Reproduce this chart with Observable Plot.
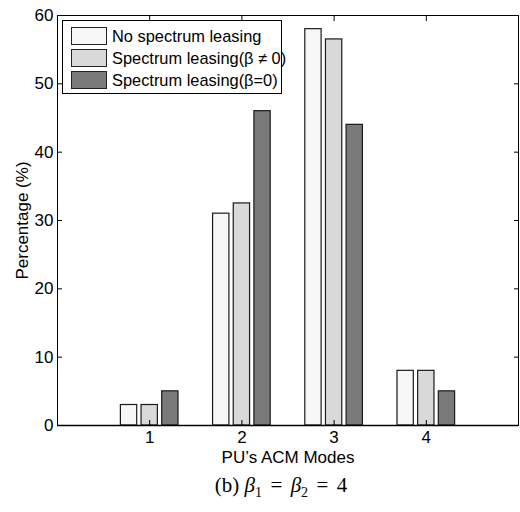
<!DOCTYPE html>
<html>
<head>
<meta charset="utf-8">
<script src="https://cdn.jsdelivr.net/npm/d3@7"></script>
<script src="https://cdn.jsdelivr.net/npm/@observablehq/plot@0.6"></script>
<style>
  body { margin: 0; background: #fff; }
  #wrap { position: relative; width: 520px; height: 512px; font-family: "Liberation Sans", Arial, sans-serif; }
  #legend { position: absolute; left: 62px; top: 20px; width: 220px; height: 74px; border: 1px solid #000; background: #fff; box-sizing: border-box; }
  .row { position: absolute; left: 8px; height: 20px; display: flex; align-items: center; font-size: 16.4px; color: #000; white-space: nowrap; }
  .sw { width: 36px; height: 18px; border: 1px solid #222; box-sizing: border-box; margin-right: 5px; }
  #caption { position: absolute; left: 0; width: 562px; top: 473px; text-align: center; font-family: "Liberation Serif", "DejaVu Serif", serif; font-size: 21px; color: #000; }
  #caption i { font-style: italic; }
  #caption .eq { padding: 0 0.4em; }
  #caption sub { font-size: 14px; }
</style>
</head>
<body>
<div id="wrap"></div>
<script>
const modes = [1, 2, 3, 4];
const seriesNames = ["No spectrum leasing", "Spectrum leasing(β ≠ 0)", "Spectrum leasing(β=0)"];
const noLeasing = [3, 31, 58, 8];
const leasingBetaNonZero = [3, 32.5, 56.5, 8];
const leasingBetaZero = [5, 46, 44, 5];
const yTicks = [0, 10, 20, 30, 40, 50, 60];
const colors = ["#f7f7f7", "#d9d9d9", "#7a7a7a"];

const seriesValues = [noLeasing, leasingBetaNonZero, leasingBetaZero];
const data = [];
seriesValues.forEach((vals, s) => vals.forEach((v, i) => data.push({mode: modes[i], series: s, value: v})));

const barW = 0.177, step = 0.224;
const chart = Plot.plot({
  width: 520,
  height: 470,
  marginLeft: 57,
  marginRight: 2,
  marginTop: 15,
  marginBottom: 45,
  style: {fontFamily: "Liberation Sans, Arial, sans-serif", fontSize: "17px", color: "#000", background: "#fff"},
  x: {domain: [0, 5]},
  y: {domain: [0, 60]},
  marks: [
    Plot.rect(data, {
      x1: d => d.mode + (d.series - 1) * step - barW / 2,
      x2: d => d.mode + (d.series - 1) * step + barW / 2,
      y1: 0,
      y2: "value",
      fill: d => colors[d.series],
      stroke: "#1a1a1a",
      strokeWidth: 1.2
    }),
    Plot.frame({stroke: "#000", strokeWidth: 1}),
    Plot.ruleY([0], {stroke: "#000", strokeWidth: 1.6}),
    Plot.axisY(yTicks, {anchor: "left", tickSize: 0, tickPadding: 4, fontSize: 17, label: "Percentage (%)", labelAnchor: "center", labelOffset: 42, labelArrow: "none"}),
    Plot.axisY(yTicks, {anchor: "left", tickSize: -5, text: null, label: null}),
    Plot.axisY(yTicks, {anchor: "right", tickSize: -5, text: null, label: null}),
    Plot.axisX(modes, {anchor: "bottom", tickSize: 0, tickPadding: 5, fontSize: 17, label: "PU’s ACM Modes", labelAnchor: "center", labelOffset: 37, labelArrow: "none"}),
    Plot.axisX(modes, {anchor: "bottom", tickSize: -5, text: null, label: null}),
    Plot.axisX(modes, {anchor: "top", tickSize: -5, text: null, label: null})
  ]
});

const wrap = document.getElementById("wrap");
wrap.appendChild(chart);

const legend = document.createElement("div");
legend.id = "legend";
seriesNames.forEach((name, i) => {
  const row = document.createElement("div");
  row.className = "row";
  row.style.top = (5 + i * 22) + "px";
  const sw = document.createElement("div");
  sw.className = "sw";
  sw.style.background = colors[i];
  const t = document.createElement("span");
  t.textContent = name;
  row.appendChild(sw);
  row.appendChild(t);
  legend.appendChild(row);
});
wrap.appendChild(legend);

const cap = document.createElement("div");
cap.id = "caption";
cap.innerHTML = "(b) <i>β</i><sub>1</sub><span class='eq'>=</span><i>β</i><sub>2</sub><span class='eq'>=</span>4";
wrap.appendChild(cap);
</script>
</body>
</html>
